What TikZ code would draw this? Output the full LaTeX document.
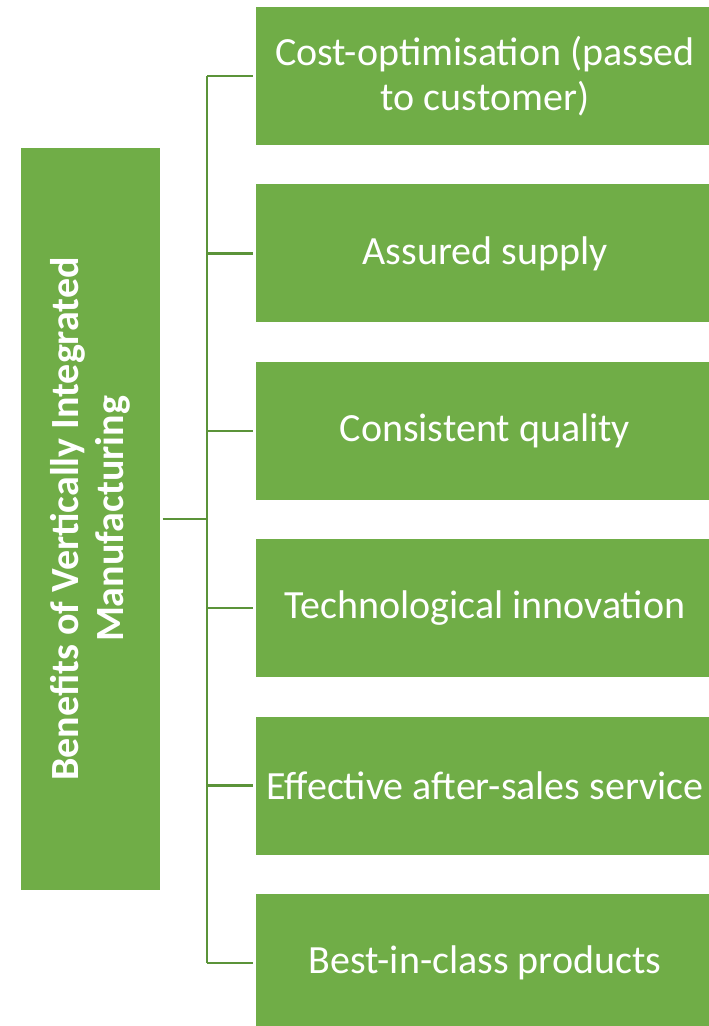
\documentclass[tikz,border=0pt]{standalone}
\usepackage{fontspec}
\setmainfont{Carlito}
\usepackage{tikz}
\usetikzlibrary{positioning}
\usepackage{xcolor}
\definecolor{boxgreen}{HTML}{70AD47}
\definecolor{linegreen}{HTML}{5B9339}

\begin{document}
\begin{tikzpicture}[x=1pt, y=-1pt,
  mainbox/.style = {fill=boxgreen, text=white, minimum width=139pt, minimum height=742pt, inner sep=0pt},
  itembox/.style = {fill=boxgreen, text=white, minimum width=458pt, minimum height=138pt,
    inner sep=0pt, align=center, font=\fontsize{40}{45}\selectfont},
  link/.style = {draw=linegreen, line width=2.3pt}
]
\useasboundingbox (0,0) rectangle (709,1026);
\clip (0,0) rectangle (709,1026);

\node[mainbox] (main) at (90.5,519) {};
\node[rotate=90, text=white, align=center, font=\bfseries\fontsize{40}{45}\selectfont]
  at (main.center) {Benefits of Vertically Integrated\\ Manufacturing};

\node[itembox] (cost) at (485,76) {Cost-optimisation (passed\\ to customer)};
\node[itembox, below=39pt of cost] (supply) {Assured supply};
\node[itembox, below=39pt of supply] (quality) {Consistent quality};
\node[itembox, below=39pt of quality] (innov) {Technological innovation};
\node[itembox, below=39pt of innov] (service) {Effective after-sales service};
\node[itembox, below=39pt of service] (best) {Best-in-class products};

% trunk of the bracket
\coordinate (trunk) at (207,519);
\draw[link, shorten <=2.5pt] (main.east) -- (trunk);
\draw[link] (cost.west -| trunk) -- (best.west -| trunk);
\draw[link, shorten >=3pt] (cost.west -| trunk) -- (cost.west);
\draw[link, shorten >=3pt] (supply.west -| trunk) -- (supply.west);
\draw[link, shorten >=3pt] (quality.west -| trunk) -- (quality.west);
\draw[link, shorten >=3pt] (innov.west -| trunk) -- (innov.west);
\draw[link, shorten >=3pt] (service.west -| trunk) -- (service.west);
\draw[link, shorten >=3pt] (best.west -| trunk) -- (best.west);
\end{tikzpicture}
\end{document}
